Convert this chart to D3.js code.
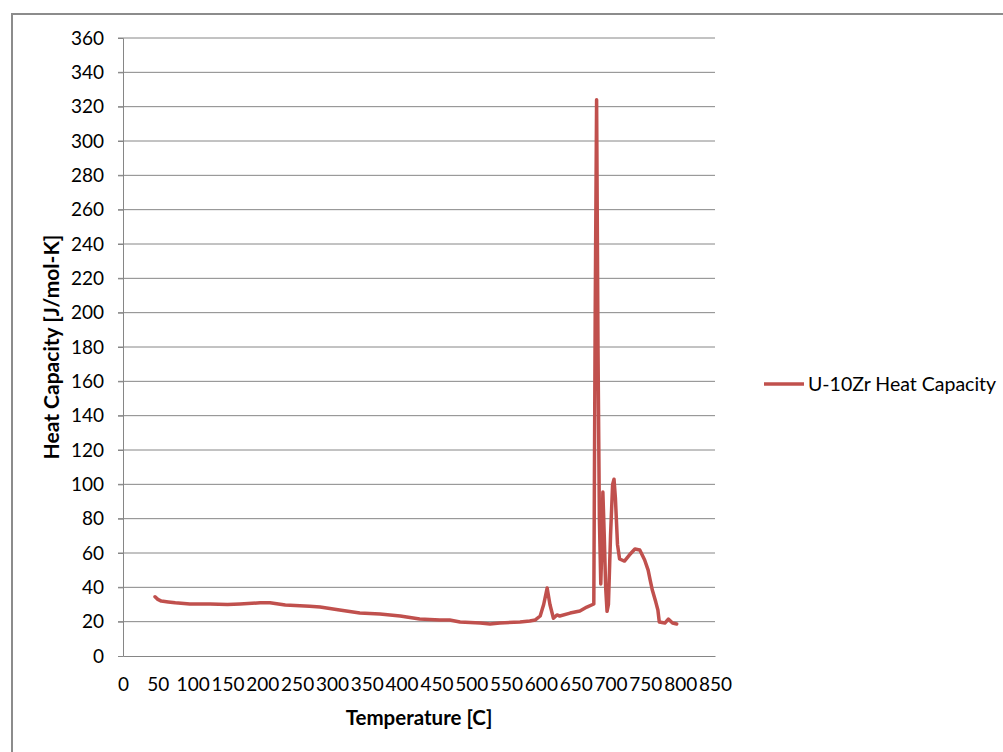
<!DOCTYPE html>
<html>
<head>
<meta charset="utf-8">
<script src="https://cdn.jsdelivr.net/npm/d3@7"></script>
<style>
  body { margin: 0; background: #fff; }
  text { font-family: Lato, "Open Sans", sans-serif; fill: #000; }
</style>
</head>
<body>
<svg id="chart" width="1003" height="752"></svg>
<script>
// data: temperature [C] and heat capacity [J/mol-K]
const temperature = [46, 50, 55, 65, 75, 96, 125, 150, 168, 197, 211, 233, 268, 283, 311, 340, 369, 398, 426, 455, 469, 484, 513, 527, 541, 570, 584, 592, 599, 604, 609, 613, 618, 623, 627, 642, 656, 666, 676, 678, 680, 682, 684, 686, 688, 689, 691, 693, 695, 697, 700, 703, 705, 707, 710, 713, 720, 727, 735, 742, 749, 754, 757, 760, 765, 768, 770, 778, 783, 789, 795];
const heatCapacity = [34.5, 33, 32, 31.5, 31, 30.3, 30.3, 30, 30.3, 31, 31, 29.7, 29, 28.5, 26.8, 25, 24.5, 23.3, 21.5, 21, 21, 19.8, 19.2, 18.6, 19.2, 19.8, 20.4, 21, 23.3, 30, 39.6, 30, 22, 23.9, 23.3, 25, 26.2, 28.5, 30.3, 200, 324, 180, 80, 42, 70, 95.5, 70, 40, 26, 30, 70, 100, 103, 92, 65, 56.5, 55.3, 58.8, 62.3, 61.7, 55.9, 50, 44, 38.4, 31.4, 26.8, 19.8, 19.2, 21.5, 19.2, 18.6];
const seriesName = "U-10Zr Heat Capacity";
const xTicks = d3.range(0, 851, 50);
const yTicks = d3.range(0, 361, 20);

let margin = {top: 38, right: 288, bottom: 96, left: 123},
    width = 1003 - margin.left - margin.right,
    height = 752 - margin.top - margin.bottom;

const svg = d3.select("#chart");

// outer chart border (cut off on the right and bottom)
svg.append("rect")
    .attr("x", 12).attr("y", 14)
    .attr("width", 1100).attr("height", 900)
    .attr("fill", "none")
    .attr("stroke", "#8c8c8c")
    .attr("stroke-width", 2);

const g = svg.append("g")
    .attr("transform", "translate(" + margin.left + "," + margin.top + ")");

const x = d3.scaleLinear().domain([0, 850]).range([0, 592]);
const y = d3.scaleLinear().domain([0, 360]).range([618, 0]);

// gridlines
g.append("g")
    .selectAll("line")
    .data(yTicks.filter(d => d > 0))
    .enter().append("line")
    .attr("x1", -5).attr("x2", x(850))
    .attr("y1", d => y(d)).attr("y2", d => y(d))
    .attr("stroke", "#868686")
    .attr("stroke-width", 1);

// y axis
const yAxis = g.append("g")
    .call(d3.axisLeft(y).tickValues(yTicks).tickSize(5).tickPadding(14));
yAxis.select(".domain").attr("stroke", "#868686");
yAxis.selectAll(".tick line").attr("stroke", "#868686");
yAxis.selectAll("text").style("font-size", "19px").attr("font-family", null);

// x axis
const xAxis = g.append("g")
    .attr("transform", "translate(0," + y(0) + ")")
    .call(d3.axisBottom(x).tickValues(xTicks).tickSize(0).tickPadding(22));
xAxis.select(".domain").attr("stroke", "#868686");
xAxis.selectAll("text").style("font-size", "19px").attr("font-family", null);

// line
const line = d3.line()
    .x((d, i) => x(temperature[i]))
    .y(d => y(d));

g.append("path")
    .datum(heatCapacity)
    .attr("fill", "none")
    .attr("stroke", "#C0504D")
    .attr("stroke-width", 3.5)
    .attr("stroke-linejoin", "round")
    .attr("stroke-linecap", "round")
    .attr("d", line);

// axis titles
svg.append("text")
    .attr("x", margin.left + x(425))
    .attr("y", 725)
    .attr("text-anchor", "middle")
    .style("font-size", "20.5px")
    .style("font-weight", "bold")
    .text("Temperature [C]");

svg.append("text")
    .attr("transform", "translate(59," + (margin.top + y(180)) + ") rotate(-90)")
    .attr("text-anchor", "middle")
    .style("font-size", "21px")
    .style("font-weight", "bold")
    .text("Heat Capacity [J/mol-K]");

// legend
const legend = svg.append("g").attr("transform", "translate(764,384)");
legend.append("line")
    .attr("x1", 0).attr("x2", 40)
    .attr("stroke", "#C0504D")
    .attr("stroke-width", 3.5);
legend.append("text")
    .attr("x", 44).attr("y", 6.5)
    .style("font-size", "19.5px")
    .text(seriesName);
</script>
</body>
</html>
